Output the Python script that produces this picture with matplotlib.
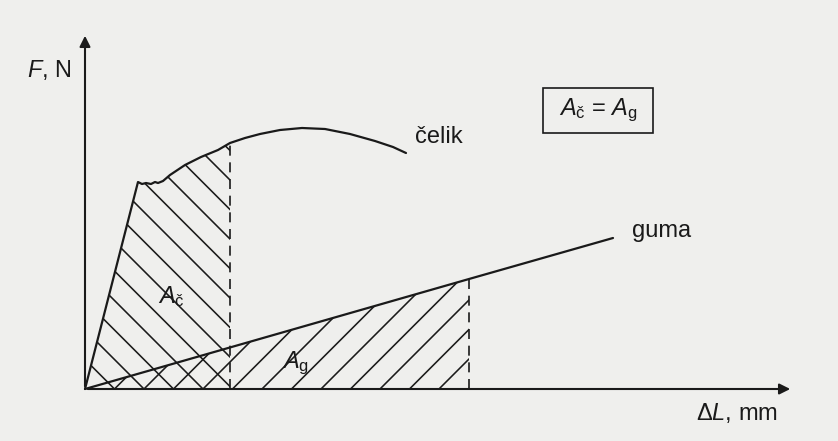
import matplotlib
matplotlib.use("Agg")
import matplotlib.pyplot as plt
from matplotlib.patches import Polygon, Rectangle
from matplotlib.collections import LineCollection

plt.rcParams['font.family'] = ['Liberation Sans', 'DejaVu Sans']
plt.rcParams['mathtext.fontset'] = 'custom'
plt.rcParams['mathtext.rm'] = 'Liberation Sans'
plt.rcParams['mathtext.it'] = 'Liberation Sans:italic'

# celik (steel) curve, dL vs F
celik_x = [0, 53, 57, 61, 66, 70, 73, 78, 85, 100, 116, 133, 145,
           160, 175, 195, 217, 240, 265, 290, 308, 321]
celik_y = [0, 207, 205, 206, 205, 207, 206, 208, 214, 224, 232, 239, 246,
           251, 255, 259, 261, 260, 255, 248, 242, 236]
# guma (rubber) line
guma_x = [0, 384, 528]
guma_y = [0, 110, 151]
# where the hatched areas end
celik_cut = 145
guma_cut = 384

ink = '#1a1a1a'
bg = '#efefed'
hatch_step = 29.5

fig = plt.figure(figsize=(8.38, 4.41), dpi=100, facecolor=bg)
ax = fig.add_axes([0, 0, 1, 1])
ax.set_facecolor(bg)
ax.set_xlim(-85, 753)
ax.set_ylim(-52, 389)
ax.axis('off')

# axes with arrows
ax.annotate('', xy=(0, 356), xytext=(0, 0),
            arrowprops=dict(arrowstyle='-|>', lw=1.5, color=ink, mutation_scale=16))
ax.annotate('', xy=(708, 0), xytext=(0, 0),
            arrowprops=dict(arrowstyle='-|>', lw=1.5, color=ink, mutation_scale=16))

# curves
ax.plot(celik_x, celik_y, color=ink, lw=1.6, solid_capstyle='round')
ax.plot(guma_x, guma_y, color=ink, lw=1.6, solid_capstyle='round')

# hatched areas
k = celik_x.index(celik_cut)
celik_pts = list(zip(celik_x[:k + 1], celik_y[:k + 1])) + [(celik_cut, 0)]
celik_poly = Polygon(celik_pts, closed=True, fc='none', ec='none')
ax.add_patch(celik_poly)

k = guma_x.index(guma_cut)
guma_pts = list(zip(guma_x[:k + 1], guma_y[:k + 1])) + [(guma_cut, 0)]
guma_poly = Polygon(guma_pts, closed=True, fc='none', ec='none')
ax.add_patch(guma_poly)

segs_c = []
segs_g = []
for i in range(1, 16):
    c = i * hatch_step
    segs_c.append([(c - 450, 450), (c + 20, -20)])
    segs_g.append([(c - 20, -20), (c + 450, 450)])
lc = LineCollection(segs_c, colors=ink, linewidths=1.15)
ax.add_collection(lc)
lc.set_clip_path(celik_poly)
lg = LineCollection(segs_g, colors=ink, linewidths=1.15)
ax.add_collection(lg)
lg.set_clip_path(guma_poly)

# dashed limits
ax.plot([celik_cut, celik_cut], [0, celik_y[celik_x.index(celik_cut)]],
        color=ink, lw=1.2, ls=(0, (6, 4)))
ax.plot([guma_cut, guma_cut], [0, guma_y[guma_x.index(guma_cut)]],
        color=ink, lw=1.2, ls=(0, (6, 4)))

# labels
fs = 17
ax.text(-36, 319, '$F$, N', fontsize=fs, color=ink, ha='center', va='center')
ax.text(652, -31, 'Δ$L$, mm', fontsize=fs, color=ink, ha='center', va='baseline')
ax.text(330, 246, 'čelik', fontsize=fs, color=ink, ha='left', va='baseline')
ax.text(547, 152, 'guma', fontsize=fs, color=ink, ha='left', va='baseline')
ax.text(73, 86, r'$A_\mathrm{č}$', fontsize=fs, color=ink, ha='left', va='baseline')
ax.text(197, 21, r'$A_\mathrm{g}$', fontsize=fs, color=ink, ha='left', va='baseline')

ax.add_patch(Rectangle((458, 256), 110, 45, fc='none', ec=ink, lw=1.2))
ax.text(513, 278.5, r'$A_\mathrm{č}$ = $A_\mathrm{g}$', fontsize=fs, color=ink,
        ha='center', va='center')

fig.savefig('out.png', dpi=100, facecolor=bg)
